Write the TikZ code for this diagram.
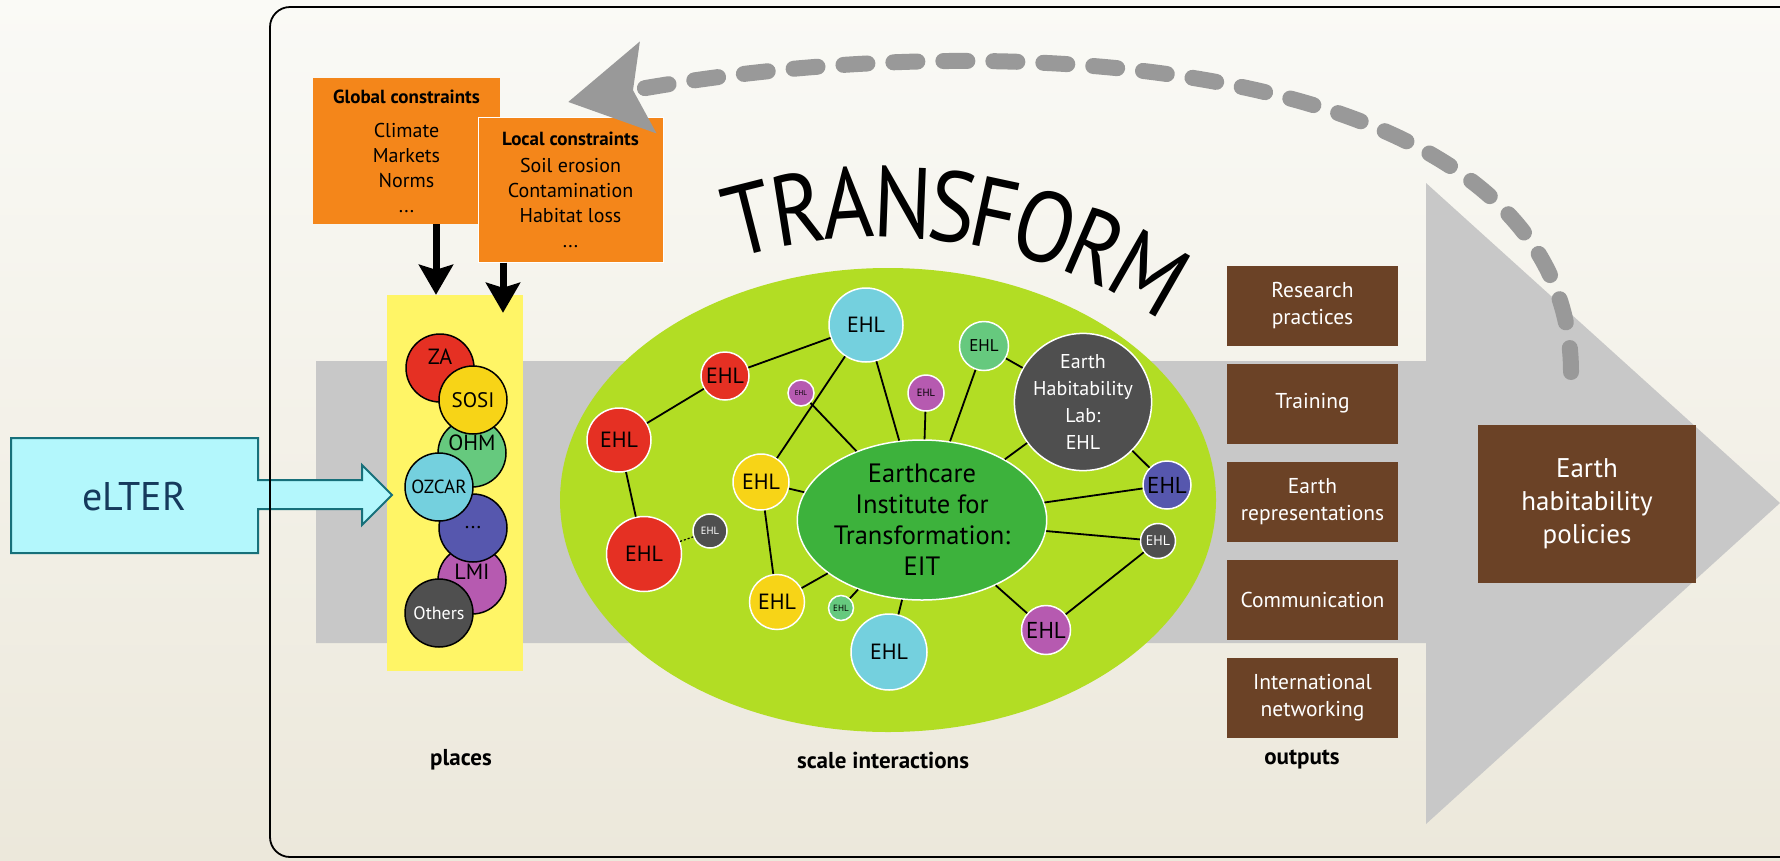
\documentclass[tikz,border=0pt]{standalone}
\usepackage{fontspec}
\setmainfont{PT Sans}
\usetikzlibrary{shapes.geometric,arrows.meta,calc}

\definecolor{bgtop}{HTML}{FAFAF6}
\definecolor{bgbot}{HTML}{ECE8DB}
\definecolor{flowgray}{HTML}{C8C8C8}
\definecolor{leafgreen}{HTML}{B2DD24}
\definecolor{eitgreen}{HTML}{3DB23C}
\definecolor{ehlred}{HTML}{E53023}
\definecolor{ehlyellow}{HTML}{F7D417}
\definecolor{ehlgreen}{HTML}{66C97E}
\definecolor{ehlcyan}{HTML}{74D0DE}
\definecolor{ehlblue}{HTML}{5657AE}
\definecolor{ehlpurple}{HTML}{B65AB0}
\definecolor{ehldark}{HTML}{4F4F4F}
\definecolor{placeyellow}{HTML}{FFF566}
\definecolor{constorange}{HTML}{F4861A}
\definecolor{outbrown}{HTML}{6B4226}
\definecolor{elterfill}{HTML}{B3F7FC}
\definecolor{elterline}{HTML}{17707A}
\definecolor{eltertext}{HTML}{163A5C}
\definecolor{loopgray}{HTML}{999999}

\newcommand{\fsz}[2]{\fontsize{#1}{#2}\selectfont}

\begin{document}
\begin{tikzpicture}[x=1pt,y=-1pt,
  place/.style={circle,draw=black,line width=1.5pt,minimum size=68pt,inner sep=0pt,font=\fsz{21}{25}},
  ehl/.style={circle,draw=white,line width=1.5pt,inner sep=0pt,font=\fsz{22}{26}},
  link/.style={line width=1.8pt},
  every label/.style={font=\fsz{22}{26},inner sep=0pt},
  outbox/.style={rectangle,fill=outbrown,text=white,minimum width=171pt,minimum height=80pt,
    inner sep=0pt,align=center,font=\fsz{21.5}{27}},
  constraint/.style={rectangle,fill=constorange,inner sep=0pt,align=center,font=\fsz{20}{25}},
  downarrow/.style={line width=7pt,-{Stealth[length=30pt,width=34pt,inset=5pt]}},
  caption/.style={font=\bfseries\fsz{23}{27}}]
  \useasboundingbox (0,0) rectangle (1780,860);
  \clip (0,0) rectangle (1780,860);
  \shade[top color=bgtop,bottom color=bgbot] (0,0) rectangle (1780,860);

  \fill[flowgray] (316,361) -- (1426,361) -- (1426,183) -- (1780,503) -- (1426,824)
    -- (1426,643) -- (316,643) -- cycle;

  \node[ellipse,fill=leafgreen,minimum width=656pt,minimum height=464pt,inner sep=0pt] (scalezone) at (888,500) {};

  \matrix [row sep=18pt] at (1312.5,501.5) {
    \node[outbox] (research) {Research\\practices}; \\
    \node[outbox] (training) {Training}; \\
    \node[outbox] (represent) {Earth\\representations}; \\
    \node[outbox] (communic) {Communication}; \\
    \node[outbox] (network) {International\\networking}; \\
  };
  \node[outbox,minimum width=218pt,minimum height=158pt,font=\fsz{27}{33}] (policies) at (1587,504) {Earth\\habitability\\policies};

  \node[rectangle,fill=placeyellow,minimum width=136pt,minimum height=376pt] (places) at (455,483) {};
  \node[place,fill=ehlred,label={[yshift=11pt]center:ZA}] (za) at (440,368) {};
  \node[place,fill=ehlgreen,label={[yshift=10pt]center:OHM}] (ohm) at (472,453) {};
  \node[place,fill=ehlyellow] (sosi) at (473,400) {SOSI};
  \node[place,fill=ehlpurple,label={[yshift=8pt]center:LMI}] (lmi) at (472,580) {};
  \node[place,fill=ehlblue] (dots) at (473,528) {...};
  \node[place,fill=ehlcyan,font=\fsz{19}{22}] (ozcar) at (439,487) {OZCAR};
  \node[place,fill=ehldark,text=white,font=\fsz{18}{22}] (others) at (439,613) {Others};

  \node[constraint,minimum width=187pt,minimum height=146pt] (global) at (406.5,151)
    {\textbf{\fsz{19}{25}Global constraints}\\[9pt]Climate\\Markets\\Norms\\...};
  \node[constraint,draw=white,line width=1pt,minimum width=185pt,minimum height=145pt] (local) at (570.5,189.5)
    {\textbf{\fsz{19}{25}Local constraints}\\[2pt]Soil erosion\\Contamination\\Habitat loss\\...};
  \draw[downarrow] ([xshift=29.5pt]global.south) -- ([xshift=-19pt]places.north);
  \draw[downarrow] ([xshift=-67.5pt]local.south) -- ([xshift=48pt,yshift=-18pt]places.north);

  \node[ellipse,fill=eitgreen,draw=white,line width=1.5pt,minimum width=228pt,minimum height=160pt,
    inner sep=0pt,align=center,font=\fsz{26.5}{31}] (eit) at (922,520) {Earthcare\\Institute for\\Transformation:\\EIT};
  \node[ehl,fill=ehldark,text=white,minimum size=134pt,align=center,font=\fsz{20}{27}] (ehlab) at (1083,402)
    {Earth\\Habitability\\Lab:\\EHL};
  \node[ehl,fill=ehlcyan,minimum size=74pt] (cyanA) at (866,325) {EHL};
  \node[ehl,fill=ehlred,minimum size=48pt] (redA) at (725,376) {EHL};
  \node[ehl,fill=ehlred,minimum size=64pt] (redB) at (619,440) {EHL};
  \node[ehl,fill=ehlred,minimum size=75pt] (redC) at (644,554) {EHL};
  \node[ehl,fill=ehldark,text=white,minimum size=34pt,font=\fsz{10.5}{12}] (darkA) at (710,531) {EHL};
  \node[ehl,fill=ehlpurple,minimum size=26pt,font=\fsz{7}{8}] (purpA) at (801,393) {EHL};
  \node[ehl,fill=ehlpurple,minimum size=36pt,font=\fsz{10.5}{12}] (purpB) at (926,393) {EHL};
  \node[ehl,fill=ehlgreen,minimum size=49pt,font=\fsz{17}{20}] (greenA) at (984,346) {EHL};
  \node[ehl,fill=ehlyellow,minimum size=56pt] (yellA) at (761,482) {EHL};
  \node[ehl,fill=ehlyellow,minimum size=55pt] (yellB) at (777,602) {EHL};
  \node[ehl,fill=ehlgreen,minimum size=25pt,font=\fsz{9}{10}] (greenB) at (841,608) {EHL};
  \node[ehl,fill=ehlcyan,minimum size=76pt] (cyanB) at (889,652) {EHL};
  \node[ehl,fill=ehlpurple,minimum size=49pt,font=\fsz{23}{26}] (purpC) at (1046,630) {EHL};
  \node[ehl,fill=ehldark,text=white,minimum size=35pt,font=\fsz{14}{16}] (darkB) at (1158,541) {EHL};
  \node[ehl,fill=ehlblue,minimum size=48pt,font=\fsz{23}{26}] (blueA) at (1167,485) {EHL};

  \draw[link] (redA) -- (cyanA);
  \draw[link] (redA) -- (redB);
  \draw[link] (redB) -- (redC);
  \draw[link,line width=1.2pt,dash pattern=on 2pt off 2pt] (redC) -- (darkA);
  \draw[link] (cyanA) -- (yellA);
  \draw[link] (cyanA) -- (eit);
  \draw[link] (purpA) -- (eit);
  \draw[link] (purpB) -- (eit);
  \draw[link] (greenA) -- (eit);
  \draw[link] (greenA) -- (ehlab);
  \draw[link] (ehlab) -- (eit);
  \draw[link] (ehlab) -- (blueA);
  \draw[link] (blueA) -- (eit);
  \draw[link] (darkB) -- (eit);
  \draw[link] (darkB) -- (purpC);
  \draw[link] (purpC) -- (eit);
  \draw[link] (yellA) -- (eit);
  \draw[link] (yellA) -- (yellB);
  \draw[link] (yellB) -- (eit);
  \draw[link] (greenB) -- (eit);
  \draw[link] (cyanB) -- (eit);

  \foreach \ch/\ang in {T/104.2,R/99.0,A/93.6,N/87.8,S/82.4,F/77.9,O/72.4,R/66.6,M/60.2}
    \node[font=\fsz{100}{104},anchor=base,inner sep=0pt,rotate=\ang-90] at ($(882,741)+(\ang:504pt)$) {\scalebox{0.87}[1]{\ch}};

  \draw[loopgray,line width=16pt,line cap=round,dash pattern=on 24pt off 26pt,
    -{Stealth[length=80pt,width=90pt,inset=14pt]}] (1571,372) .. controls (1570,60) and (1020,20) .. (568,102);

  \draw[elterline,line width=2pt,fill=elterfill] (11,438) -- (258,438) -- (258,480) -- (362,480) -- (362,465)
    -- (392,495) -- (362,525) -- (362,509) -- (258,509) -- (258,553) -- (11,553) -- cycle;
  \node[font=\fsz{40}{46},text=eltertext] (elter) at (134,497) {eLTER};

  \draw[line width=1.8pt,rounded corners=20pt] (270,7) rectangle (1800,857);

  \node[caption] (placeslbl) at (461,760) {places};
  \node[caption] (scalelbl) at (883,760) {scale interactions};
  \node[caption] (outputslbl) at (1302,760) {outputs};
\end{tikzpicture}
\end{document}
